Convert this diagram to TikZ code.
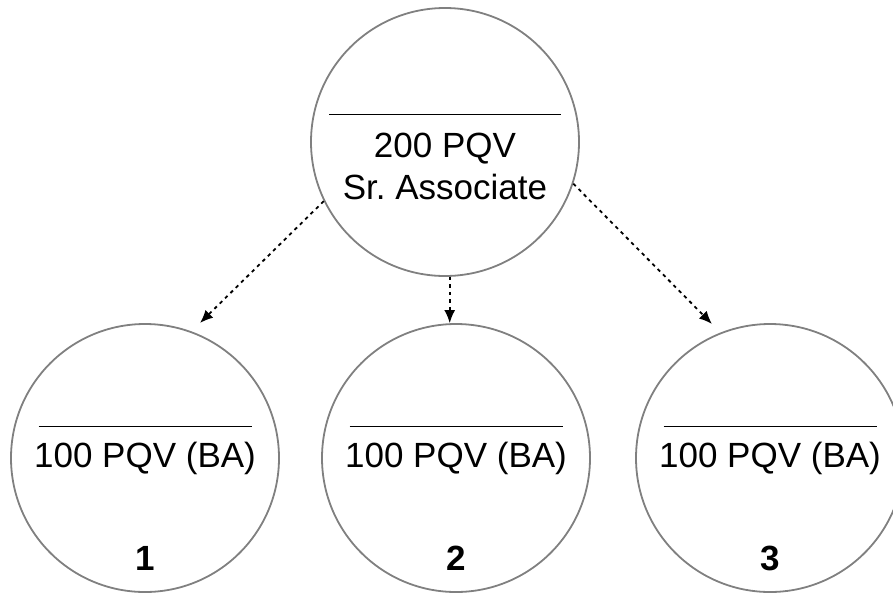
\documentclass[tikz,border=0pt]{standalone}
\usepackage{fontspec}
\setmainfont{Liberation Sans}
\usetikzlibrary{arrows.meta}
\definecolor{ringgray}{RGB}{128,128,128}

\begin{document}
\begin{tikzpicture}[x=1pt,y=-1pt]
		\tikzstyle{every node}+=[inner sep=0pt]
		\tikzstyle{ring}=[circle,draw=ringgray,line width=1.8pt,minimum size=268pt]
		\tikzstyle{txt}=[font=\fontsize{35}{42}\selectfont]
		\tikzstyle{num}=[font=\fontsize{35}{42}\selectfont\bfseries]
		\tikzstyle{link}=[black,line width=1.8pt,dash pattern=on 3.5pt off 4pt,-{Latex[length=13pt,width=11pt]}]
		\useasboundingbox (0,0) rectangle (893,592);
		\node [ring] (sr) at (445,142) {};
		\node [anchor=base] (srbar) at (445,115) {\rule{232pt}{1.4pt}};
		\node [txt,anchor=base] (srpqv) at (445,157) {200 PQV};
		\node [txt,anchor=base] (srrank) at (445,199) {Sr.\ Associate};
		\foreach \x/\n in {145/1,456/2,770/3} {
			\node [ring] (ba\n) at (\x,458) {};
			\node [anchor=base] (babar\n) at (\x,427) {\rule{213pt}{1.4pt}};
			\node [txt,anchor=base] (bapqv\n) at (\x,467) {100 PQV (BA)};
			\node [num,anchor=base] (banum\n) at (\x,570) {\n};
		}
		\coordinate (tip1) at (200,323);
		\coordinate (tip3) at (712,324);
		\draw [link] (sr.206) -- (tip1);
		\draw [link] (sr.-88) -- (sr.-88 |- ba2.north);
		\draw [link] (sr.-18) -- (tip3);
	\end{tikzpicture}
\end{document}
